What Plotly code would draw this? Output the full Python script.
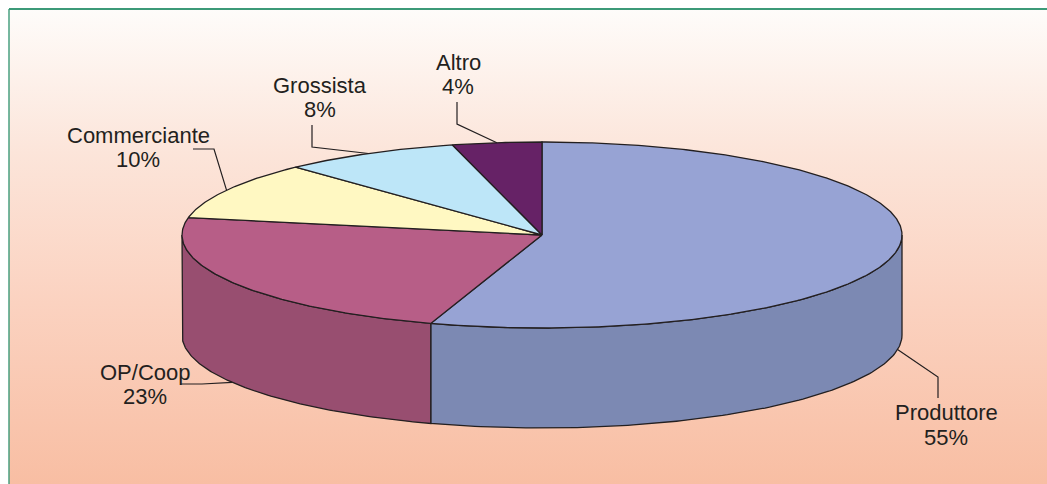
import numpy as np
import plotly.graph_objects as go

# ---- data ----
labels = ["Produttore", "OP/Coop", "Commerciante", "Grossista", "Altro"]
values = [55, 23, 10, 8, 4]
pct_text = ["55%", "23%", "10%", "8%", "4%"]

# ---- styles ----
top_colors = ["#97a3d4", "#b75e87", "#fff8c2", "#bde6f8", "#662266"]
side_colors = ["#7c89b3", "#984e70", "#d8d2a0", "#9fc3d3", "#4e1a4e"]
EDGE = "#231f20"
TEXT = "#231f20"
FONT = "Liberation Sans, Arial, sans-serif"

W, H = 1047, 484
CX, CY, RX, RY, DEPTH = 542, 235, 360, 93, 100

# label layout: (elbow x, elbow y, end x, end y, text center x, name y, pct y)
label_layout = {
    "Produttore":   (938, 377, 938, 398, 946, 412, 437),
    "OP/Coop":      (202, 384, 180, 384, 145, 372, 396),
    "Commerciante": (214, 149, 193, 149, 138, 135, 159),
    "Grossista":    (312, 147, 312, 125, 320, 85, 109),
    "Altro":        (457, 124, 457, 102, 458, 62, 86),
}


def pt(theta_deg, dy=0.0):
    t = np.radians(theta_deg)
    return CX + RX * np.sin(t), CY - RY * np.cos(t) + dy


fig = go.Figure()

# background panel with vertical gradient
fig.add_trace(go.Scatter(
    x=[9, W, W, 9, 9], y=[9, 9, H, H, 9], mode="lines", line=dict(width=0),
    fill="toself",
    fillgradient=dict(type="vertical", start=9, stop=H,
                      colorscale=[[0, "#fefcfa"], [0.3, "#fce5da"],
                                  [0.62, "#fbd2c0"], [1, "#f8bea3"]]),
    hoverinfo="skip", showlegend=False))

total = float(sum(values))
bounds = np.concatenate([[0], np.cumsum(values) / total * 360.0])

# side faces (front half only: 90..270 deg)
for i in range(len(values)):
    a0, a1 = bounds[i], bounds[i + 1]
    lo, hi = max(a0, 90.0), min(a1, 270.0)
    if hi <= lo:
        continue
    th = np.linspace(lo, hi, 120)
    xt, yt = pt(th)
    xb, yb = pt(th[::-1], DEPTH)
    xs = np.concatenate([xt, xb, [xt[0]]])
    ys = np.concatenate([yt, yb, [yt[0]]])
    fig.add_trace(go.Scatter(x=xs, y=ys, mode="lines", fill="toself",
                             fillcolor=side_colors[i],
                             line=dict(color=EDGE, width=1.3),
                             hoverinfo="skip", showlegend=False))

# top faces
for i in range(len(values)):
    a0, a1 = bounds[i], bounds[i + 1]
    th = np.linspace(a0, a1, max(8, int((a1 - a0) * 2)))
    xa, ya = pt(th)
    xs = np.concatenate([[CX], xa, [CX]])
    ys = np.concatenate([[CY], ya, [CY]])
    fig.add_trace(go.Scatter(x=xs, y=ys, mode="lines", fill="toself",
                             fillcolor=top_colors[i],
                             line=dict(color=EDGE, width=1.3),
                             hoverinfo="skip", showlegend=False))

# leader lines and labels
annotations = []
for i, name in enumerate(labels):
    mid = (bounds[i] + bounds[i + 1]) / 2.0
    on_front = 90 < mid < 270
    ax, ay = pt(mid, DEPTH if on_front else 0.0)
    ex, ey, fx, fy, tx, ny, py = label_layout[name]
    fig.add_trace(go.Scatter(x=[ax, ex, fx], y=[ay, ey, fy], mode="lines",
                             line=dict(color=EDGE, width=1.2),
                             hoverinfo="skip", showlegend=False))
    for txt, yy in ((name, ny), (pct_text[i], py)):
        annotations.append(dict(x=tx, y=yy, xref="x", yref="y", text=txt,
                                showarrow=False, xanchor="center", yanchor="middle",
                                font=dict(family=FONT, size=22, color=TEXT)))

shapes = [
    dict(type="line", x0=9, y0=9, x1=W, y1=9, xref="x", yref="y",
         line=dict(color="#3c9a78", width=2)),
    dict(type="line", x0=9, y0=9, x1=9, y1=H, xref="x", yref="y",
         line=dict(color="#3c9a78", width=1.4)),
]

fig.update_layout(
    width=W, height=H,
    margin=dict(l=0, r=0, t=0, b=0),
    paper_bgcolor="white", plot_bgcolor="rgba(0,0,0,0)",
    xaxis=dict(range=[0, W], visible=False, fixedrange=True),
    yaxis=dict(range=[H, 0], visible=False, fixedrange=True),
    annotations=annotations, shapes=shapes,
    showlegend=False,
)

fig.write_html(
    "out.html",
    config={"displayModeBar": False},
    post_script="document.body.style.margin='0';document.body.style.padding='0';"
                "document.body.style.overflow='hidden';",
)
